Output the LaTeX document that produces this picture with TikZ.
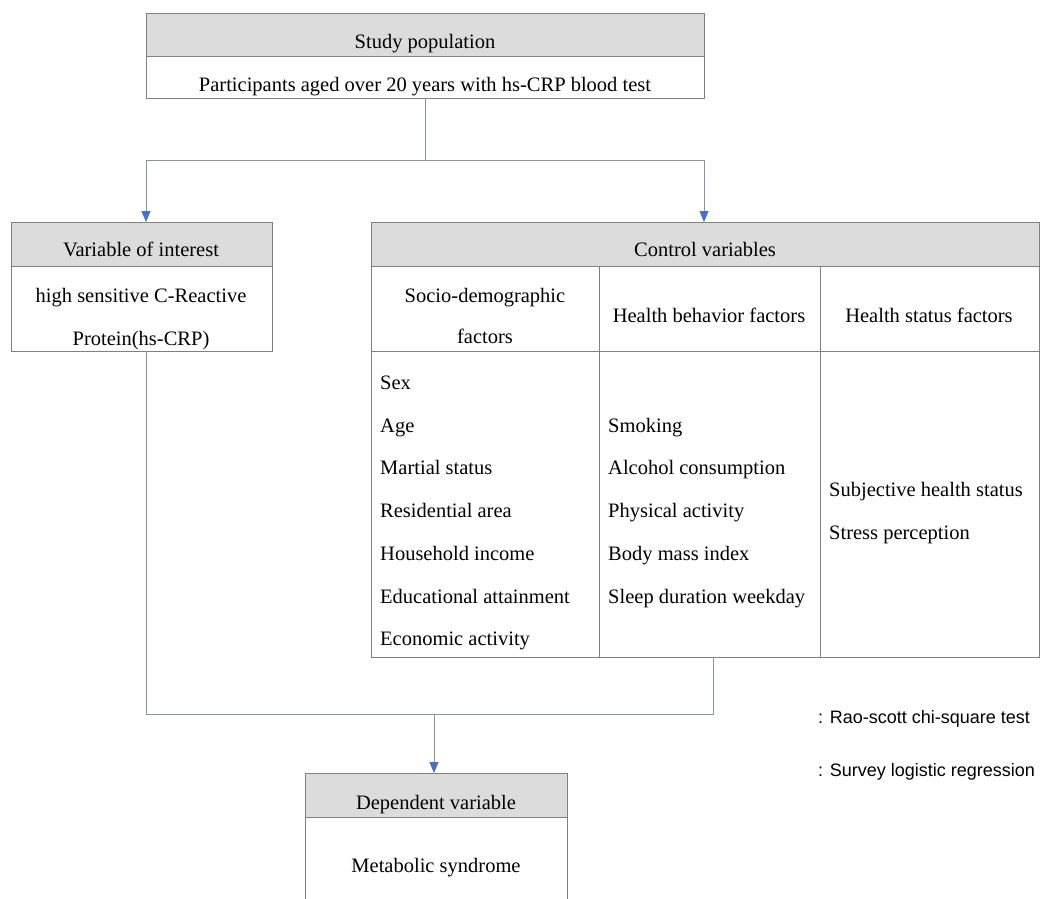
\documentclass[tikz,border=0pt]{standalone}
\usepackage{fontspec}
\setmainfont{Liberation Serif}
\newfontfamily\legendfont{Liberation Sans}
\usetikzlibrary{arrows.meta}
\definecolor{hdr}{HTML}{DCDCDC}
\definecolor{bord}{HTML}{808080}
\definecolor{connc}{HTML}{8A93A3}
\definecolor{arrblue}{HTML}{4472C4}
\begin{document}
\begin{tikzpicture}[x=1pt,y=-1pt,
  cell/.style={draw=bord, line width=0.9pt, anchor=north west, inner sep=0, outer sep=0},
  hcell/.style={cell, fill=hdr},
  txt/.style={font=\fontsize{20.5}{24}\selectfont, inner sep=0, anchor=mid, yshift=-5pt},
  item/.style={txt, anchor=mid west},
  legend/.style={font=\legendfont\fontsize{18}{21}\selectfont, inner sep=0, anchor=mid west, yshift=-4pt},
  conn/.style={draw=connc, line width=0.9pt},
  arrow/.style={conn, -{Triangle[width=9pt,length=11pt,color=arrblue]}}
]
\clip (0,0) rectangle (1040,898);
\fill[white] (0,0) rectangle (1040,898);

% Study population
\node[hcell, minimum width=558pt, minimum height=43pt] (toph) at (146,13) {};
\node[cell, minimum width=558pt, minimum height=42pt] (topb) at (146,56) {};
\node[txt] (t1) at (425,41) {Study population};
\node[txt] (t2) at (425,84) {Participants aged over 20 years with hs-CRP blood test};

% Variable of interest
\node[hcell, minimum width=261pt, minimum height=44pt] (voih) at (11,222) {};
\node[cell, minimum width=261pt, minimum height=85pt] (voib) at (11,266) {};
\node[txt] (v1) at (141,249) {Variable of interest};
\node[txt] (v2) at (141,295) {high sensitive C-Reactive};
\node[txt] (v3) at (141,338) {Protein(hs-CRP)};

% Control variables
\node[hcell, minimum width=668pt, minimum height=44pt] (ctrlh) at (371,222) {};
\node[cell, minimum width=228pt, minimum height=85pt] (c1h) at (371,266) {};
\node[cell, minimum width=221pt, minimum height=85pt] (c2h) at (599,266) {};
\node[cell, minimum width=219pt, minimum height=85pt] (c3h) at (820,266) {};
\node[cell, minimum width=228pt, minimum height=306pt] (c1b) at (371,351) {};
\node[cell, minimum width=221pt, minimum height=306pt] (c2b) at (599,351) {};
\node[cell, minimum width=219pt, minimum height=306pt] (c3b) at (820,351) {};
\node[txt] (cv) at (705,249) {Control variables};
\node[txt] (sd1) at (485,295) {Socio-demographic};
\node[txt] (sd2) at (485,336) {factors};
\node[txt] (hb) at (709,315) {Health behavior factors};
\node[txt] (hs) at (929,315) {Health status factors};

\node[item] (a1) at (380,382) {Sex};
\node[item] (a2) at (380,425) {Age};
\node[item] (a3) at (380,467) {Martial status};
\node[item] (a4) at (380,510) {Residential area};
\node[item] (a5) at (380,553) {Household income};
\node[item] (a6) at (380,596) {Educational attainment};
\node[item] (a7) at (380,638) {Economic activity};

\node[item] (b1) at (608,425) {Smoking};
\node[item] (b2) at (608,467) {Alcohol consumption};
\node[item] (b3) at (608,510) {Physical activity};
\node[item] (b4) at (608,553) {Body mass index};
\node[item] (b5) at (608,596) {Sleep duration weekday};

\node[item] (s1) at (829,489) {Subjective health status};
\node[item] (s2) at (829,532) {Stress perception};

% Dependent variable
\node[hcell, minimum width=262pt, minimum height=44pt] (deph) at (305,773) {};
\node[cell, minimum width=262pt, minimum height=110pt] (depb) at (305,817) {};
\node[txt] (d1) at (436,802) {Dependent variable};
\node[txt] (d2) at (436,865) {Metabolic syndrome};

% Legend
\node[legend] (l1) at (818,717) {: Rao-scott chi-square test};
\node[legend] (l2) at (818,770) {: Survey logistic regression};

% Connectors
\coordinate (jl) at (146,160);
\coordinate (jr) at (704,160);
\draw[conn] (topb.south) -- (topb.south |- jl);
\draw[conn] (jl) -- (jr);
\draw[arrow] (jl) -- (jl |- voih.north);
\draw[arrow] (jr) -- (jr |- ctrlh.north);

\coordinate (vb) at (146,351);
\coordinate (cb) at (713,657);
\coordinate (jb) at (434,714);
\draw[conn] (vb) |- (cb |- jb) -- (cb);
\draw[arrow] (jb) -- (jb |- deph.north);
\end{tikzpicture}
\end{document}
